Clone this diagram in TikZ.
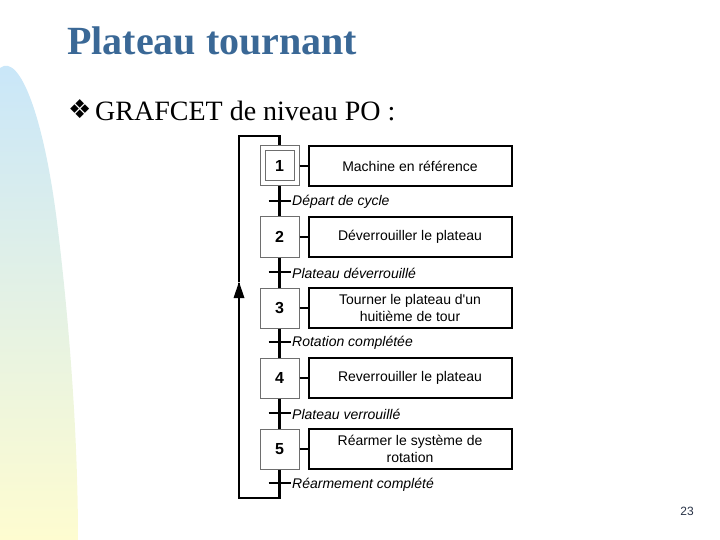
\documentclass[tikz,border=0pt]{standalone}
\usepackage{fontspec}
\setmainfont{Liberation Serif}
\setsansfont{Liberation Sans}
\newfontfamily\dejavu{DejaVu Sans}
\usetikzlibrary{arrows.meta}
\definecolor{titleblue}{RGB}{58,104,150}
\definecolor{decoblue}{RGB}{200,230,250}
\definecolor{decoyellow}{RGB}{254,252,208}
\definecolor{stepgray}{RGB}{110,110,110}
\definecolor{pagenum}{RGB}{40,50,70}
\tikzset{
  stepbox/.style={draw=stepgray, line width=1pt, fill=white, minimum width=39pt, minimum height=40pt, inner sep=0pt, font=\sffamily\bfseries\fontsize{16}{18}\selectfont},
  actbox/.style={draw=black, line width=2pt, fill=white, minimum width=203pt, minimum height=40pt, inner sep=0pt, align=center, font=\sffamily\fontsize{14}{16.5}\selectfont},
  flow/.style={draw=black, line width=2.2pt},
  bar/.style={draw=black, line width=2.6pt},
  trlabel/.style={anchor=west, inner sep=0pt, font=\sffamily\itshape\fontsize{14}{16}\selectfont},
}
\begin{document}
\begin{tikzpicture}[x=1pt,y=-1pt]
\useasboundingbox (0,0) rectangle (720,540);
% left decoration
\shade[top color=decoblue, bottom color=decoyellow] (0,540) -- (0,68) .. controls (20,52) and (45,120) .. (58,230) .. controls (70,330) and (78,440) .. (78,540) -- cycle;
% title
\node[anchor=base west, inner sep=0pt, text=titleblue, font=\bfseries\fontsize{40}{44}\selectfont] (title) at (67,55) {Plateau tournant};
\node[anchor=base west, inner sep=0pt, font=\dejavu\fontsize{26}{30}\selectfont] (bul) at (68,119) {❖};
\node[anchor=base west, inner sep=0pt, font=\fontsize{28}{32}\selectfont] (sub) at (95,121) {GRAFCET de niveau PO :};
% steps
\node[stepbox] (s1) at (279.5,166) {1};
\node[draw=stepgray, line width=1pt, minimum width=29pt, minimum height=30pt, inner sep=0pt] (s1in) at (279.5,166) {};
\node[stepbox] (s2) at (279.5,237) {2};
\node[stepbox] (s3) at (279.5,308) {3};
\node[stepbox] (s4) at (279.5,378) {4};
\node[stepbox] (s5) at (279.5,449) {5};
% actions
\node[actbox] (a1) at (410,166) {Machine en référence};
\node[actbox] (a2) at (410,237) {Déverrouiller le plateau};
\node[actbox] (a3) at (410,308) {Tourner le plateau d\textquotesingle un\\huitième de tour};
\node[actbox] (a4) at (410,378) {Reverrouiller le plateau};
\node[actbox] (a5) at (410,449) {Réarmer le système de\\rotation};
\foreach \i in {1,...,5} {\draw[line width=2pt] (s\i.east) -- (a\i.west);}
% links
\draw[flow] (s1.south) -- (s2.north);
\draw[flow] (s2.south) -- (s3.north);
\draw[flow] (s3.south) -- (s4.north);
\draw[flow] (s4.south) -- (s5.north);
% transitions
\coordinate (t1) at (279.5,201);
\coordinate (t2) at (279.5,272);
\coordinate (t3) at (279.5,342);
\coordinate (t4) at (279.5,413);
\coordinate (t5) at (279.5,483);
\foreach \i in {1,...,5} {\draw[bar] ([xshift=-11pt]t\i) -- ([xshift=11pt]t\i);}
\node[trlabel] (l1) at (292,202) {Départ de cycle};
\node[trlabel] (l2) at (292,273) {Plateau déverrouillé};
\node[trlabel] (l3) at (292,343) {Rotation complétée};
\node[trlabel] (l4) at (292,414) {Plateau verrouillé};
\node[trlabel] (l5) at (292,485) {Réarmement complété};
% loop back
\coordinate (bl) at (279.5,498);
\coordinate (bll) at (239,498);
\coordinate (arr) at (239,282);
\coordinate (tl) at (239,136);
\coordinate (tr) at (279.5,136);
\draw[flow] (s5.south) -- (bl) -- (bll) -- ([yshift=-1pt]arr);
\draw[flow] (arr) -- (tl) -- (tr) -- (s1.north);
\fill (arr) -- ++(-5.5,16) -- ++(11,0) -- cycle;
% page number
\node[text=pagenum, font=\sffamily\fontsize{12}{14}\selectfont] (pg) at (687,511) {23};
\end{tikzpicture}
\end{document}
